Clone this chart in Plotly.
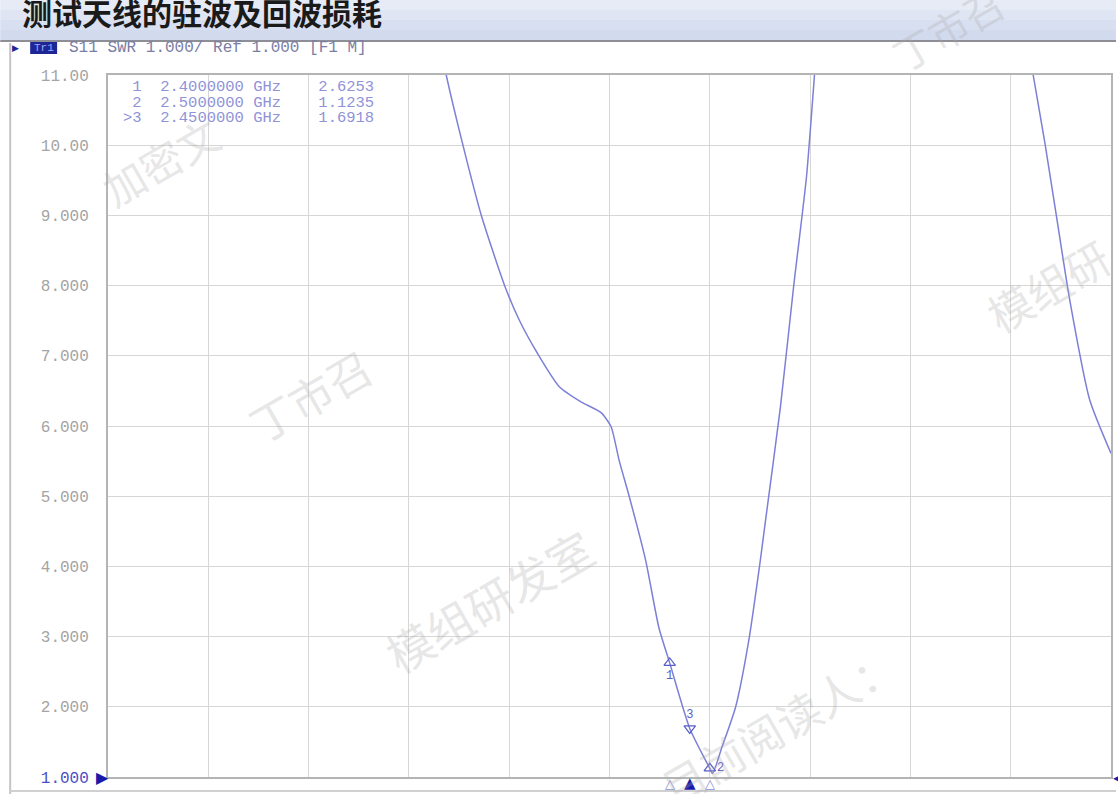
import plotly.graph_objects as go

# ---------------- data ----------------
FREQ_GHZ = [1.80, 1.843, 1.883, 1.93, 1.988, 2.025, 2.07, 2.125, 2.18, 2.229, 2.254, 2.274,
            2.299, 2.34, 2.373, 2.40, 2.45, 2.50, 2.507, 2.53, 2.564, 2.597, 2.626, 2.639,
            2.676, 2.709, 2.741, 2.761, 2.772,
            None,
            3.28, 3.306, 3.335, 3.364, 3.397, 3.447, 3.50]
SWR = [12.2, 11.0, 10.04, 9.01, 8.01, 7.51, 7.04, 6.56, 6.34, 6.19, 5.99, 5.51,
       5.0, 4.09, 3.13, 2.6253, 1.6918, 1.1235, 1.05, 1.42, 1.99, 2.94, 4.09, 4.66,
       6.27, 7.99, 9.55, 11.0, 11.8,
       None,
       11.9, 11.0, 10.04, 8.99, 7.8, 6.37, 5.61]

MARKER_ID = ["1", "2", "3"]
MARKER_FREQ = [2.40, 2.50, 2.45]
MARKER_SWR = [2.6253, 1.1235, 1.6918]
MARKER_ROWS = [" 1  2.4000000 GHz    2.6253",
               " 2  2.5000000 GHz    1.1235",
               ">3  2.4500000 GHz    1.6918"]

X_MIN, X_MAX, X_STEP = 1.0, 3.5, 0.25
Y_MIN, Y_MAX = 1, 11
Y_TICKS = [1, 2, 3, 4, 5, 6, 7, 8, 9, 10, 11]
Y_TICK_TEXT = ['<span style="color:#4a4ec4">1.000</span>', "2.000", "3.000", "4.000",
               "5.000", "6.000", "7.000", "8.000", "9.000", "10.00", "11.00"]

TITLE = "测试天线的驻波及回波损耗"
HEADER = "S11 SWR 1.000/ Ref 1.000 [F1 M]"
WATERMARKS = [("加密文", 160, 160, 42), ("丁市召", 310, 395, 44), ("模组研发室", 490, 600, 46),
              ("目前阅读人：", 780, 725, 44), ("模组研", 1050, 285, 44), ("丁市召", 950, 28, 40)]

# ---------------- layout geometry ----------------
WIDTH, HEIGHT = 1118, 794
L, R, T, B = 108, 1113, 75, 777
PW, PH = R - L, B - T


def px(x):
    return (x - L) / PW


def py(y):
    return (B - y) / PH


MONO = "Liberation Mono"
CJK = "Noto Sans CJK SC"
TRACE_COLOR = "#7c80d6"

fig = go.Figure()

fig.add_trace(go.Scatter(x=FREQ_GHZ, y=SWR, mode="lines", connectgaps=False,
                         line=dict(color=TRACE_COLOR, width=1.5, shape="spline", smoothing=0.6),
                         hoverinfo="skip", showlegend=False))

# trace markers
sym = {"1": "triangle-up-open", "2": "triangle-up-open", "3": "triangle-down-open"}
pos = {"1": "bottom center", "2": "middle right", "3": "top center"}
for mid, f, s in zip(MARKER_ID, MARKER_FREQ, MARKER_SWR):
    fig.add_trace(go.Scatter(x=[f], y=[s], mode="markers+text", text=[mid],
                             textposition=pos[mid],
                             textfont=dict(family=MONO, size=12, color="#5a5ec8"),
                             marker=dict(symbol=sym[mid], size=10, color="#5a5ec8",
                                         line=dict(width=1.2)),
                             cliponaxis=False, showlegend=False, hoverinfo="skip"))

shapes = []
# title bar gradient
bands = ["#e6ebf6", "#dfe5f3", "#d8dff0", "#d2daee"]
for i, c in enumerate(bands):
    shapes.append(dict(type="rect", xref="paper", yref="paper",
                       x0=px(0), x1=px(WIDTH), y0=py(i * 10), y1=py((i + 1) * 10),
                       fillcolor=c, line=dict(width=0), layer="below"))
shapes.append(dict(type="line", xref="paper", yref="paper", x0=px(0), x1=px(WIDTH),
                   y0=py(41), y1=py(41), line=dict(color="#8e8e96", width=2)))
# window frame
shapes.append(dict(type="line", xref="paper", yref="paper", x0=px(10), x1=px(10),
                   y0=py(43), y1=py(HEIGHT), line=dict(color="#c4c4c4", width=2)))
shapes.append(dict(type="line", xref="paper", yref="paper", x0=px(10), x1=px(WIDTH),
                   y0=py(791), y1=py(791), line=dict(color="#d0d0d0", width=2)))
# Tr1 box
shapes.append(dict(type="rect", xref="paper", yref="paper", x0=px(30), x1=px(57),
                   y0=py(54), y1=py(42), fillcolor="#1e2696", line=dict(width=0)))
fig.update_layout(shapes=shapes)

ann = []
ann.append(dict(xref="paper", yref="paper", x=px(20), y=py(12), text="<b>" + TITLE + "</b>",
                showarrow=False, xanchor="left", yanchor="middle",
                font=dict(family=CJK, size=30, color="#1a1a1a")))
ann.append(dict(xref="paper", yref="paper", x=px(15), y=py(48), text="▶", showarrow=False,
                xanchor="center", yanchor="middle", font=dict(size=9, color="#1e2696")))
ann.append(dict(xref="paper", yref="paper", x=px(43.5), y=py(48), text="Tr1", showarrow=False,
                xanchor="center", yanchor="middle", font=dict(family=MONO, size=11, color="#9aa8ff")))
ann.append(dict(xref="paper", yref="paper", x=px(67), y=py(48), text=HEADER, showarrow=False,
                xanchor="left", yanchor="middle", font=dict(family=MONO, size=16, color="#7a7ea6")))
for i, row in enumerate(MARKER_ROWS):
    ann.append(dict(xref="paper", yref="paper", x=px(121), y=py(87 + i * 15.5),
                    text=row.replace(" ", "&nbsp;"), showarrow=False, xanchor="left",
                    yanchor="middle", font=dict(family=MONO, size=15.5, color="#8f93d8")))
# stimulus markers beneath the axis
for mid, f in zip(MARKER_ID, MARKER_FREQ):
    active = mid == "3"
    ann.append(dict(xref="x", yref="paper", x=f, y=py(783), text="▲" if active else "△",
                    showarrow=False, xanchor="center", yanchor="middle",
                    font=dict(family="DejaVu Sans", size=15 if active else 13,
                              color="#1a1aa8" if active else "#8a8ed8")))
# reference level arrows
ann.append(dict(xref="paper", yref="y", x=px(111), y=Y_MIN, text="▶", showarrow=False,
                xanchor="right", yanchor="middle", font=dict(size=16, color="#1a1aa8")))
ann.append(dict(xref="paper", yref="y", x=px(1113), y=Y_MIN, text="◀", showarrow=False,
                xanchor="left", yanchor="middle", font=dict(size=16, color="#1a1aa8")))
# watermarks
for txt, cx, cy, sz in WATERMARKS:
    ann.append(dict(xref="paper", yref="paper", x=px(cx), y=py(cy), text=txt, showarrow=False,
                    xanchor="center", yanchor="middle", textangle=-30,
                    font=dict(family=CJK, size=sz, color="rgba(170,170,170,0.30)")))
fig.update_layout(annotations=ann)

fig.update_layout(
    width=WIDTH, height=HEIGHT,
    margin=dict(l=L, r=WIDTH - R, t=T, b=HEIGHT - B, pad=0),
    paper_bgcolor="white", plot_bgcolor="white",
    xaxis=dict(range=[X_MIN, X_MAX], dtick=X_STEP, tick0=X_MIN, showticklabels=False,
               showgrid=True, gridcolor="#d6d6d6", gridwidth=1, zeroline=False,
               showline=True, linecolor="#b4b4b4", linewidth=2, mirror=True, ticks=""),
    yaxis=dict(range=[Y_MIN, Y_MAX], tickvals=Y_TICKS, ticktext=Y_TICK_TEXT,
               showgrid=True, gridcolor="#d6d6d6", gridwidth=1, zeroline=False,
               showline=True, linecolor="#b4b4b4", linewidth=2, mirror=True, ticks="",
               ticklabelstandoff=14,
               tickfont=dict(family=MONO, size=16, color="#a4a4a4")),
    showlegend=False,
)

fig.write_html("out.html", config={"displayModeBar": False},
               post_script="document.body.style.margin='0px';document.body.style.overflow='hidden';")
